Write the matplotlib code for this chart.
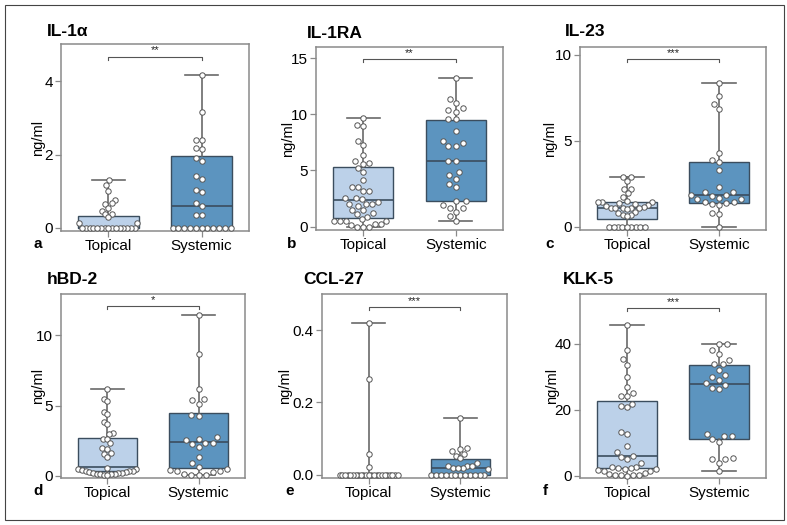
import numpy as np
import matplotlib
matplotlib.use("Agg")
import matplotlib.pyplot as plt
from matplotlib.patches import Rectangle

plt.rcParams['font.family'] = ['Liberation Sans', 'DejaVu Sans']

W, H = 787, 525

groups = ["Topical", "Systemic"]

# ---- data (ng/ml) ----
il1a_topical = [1.31, 1.16, 1.0, 0.75, 0.67, 0.64, 0.55, 0.45, 0.37, 0.37, 0.29, 0.14, 0.14,
                0, 0, 0, 0, 0, 0, 0, 0, 0, 0, 0, 0, 0, 0, 0]
il1a_systemic = [4.18, 3.15, 2.4, 2.4, 2.18, 2.15, 1.91, 1.82, 1.4, 1.33, 1.04, 0.98, 0.67, 0.59,
                 0.36, 0.34, 0, 0, 0, 0, 0, 0, 0, 0, 0, 0, 0]

il1ra_topical = [9.65, 9.03, 8.97, 7.67, 7.29, 6.34, 5.81, 5.66, 5.58, 5.22, 4.84, 4.13, 3.54, 3.54,
                 3.16, 3.16, 2.54, 2.54, 2.48, 2.18, 2.06, 2.04, 2.04, 1.83, 1.47, 1.47, 1.24, 1.09,
                 0.88, 0.65, 0.5, 0.5, 0.5, 0.5, 0.2, 0.2, 0.12, 0, 0, 0]
il1ra_systemic = [13.25, 11.36, 10.97, 10.53, 10.38, 10.24, 9.56, 9.56, 8.55, 7.67, 7.43, 7.2, 7.14,
                  5.87, 5.81, 4.87, 4.63, 4.28, 3.78, 3.51, 2.27, 2.27, 1.89, 1.68, 1.68, 1.3,
                  0.94, 0.5]

il23_topical = [2.89, 2.89, 2.65, 2.2, 2.16, 1.93, 1.7, 1.5, 1.43, 1.43, 1.43, 1.35, 1.33, 1.25,
                1.2, 1.15, 1.1, 1.1, 1.1, 1.1, 1.1, 1.05, 0.85, 0.8, 0.66, 0.66, 0.6,
                0, 0, 0, 0, 0, 0, 0, 0, 0]
il23_systemic = [8.38, 7.59, 7.13, 6.82, 4.28, 3.85, 3.74, 3.28, 2.31, 2.0, 2.0, 1.83, 1.81, 1.77,
                 1.68, 1.58, 1.58, 1.43, 1.43, 1.35, 1.29, 1.23, 0.81, 0.71, 0]

hbd2_topical = [6.16, 5.5, 5.3, 4.55, 4.4, 3.85, 3.7, 3.05, 3.0, 2.6, 2.6, 2.3, 2.0, 1.9, 1.6, 1.55,
                1.35, 0.55, 0.5, 0.45, 0.4, 0.35, 0.3, 0.3, 0.28, 0.25, 0.22, 0.2, 0.18, 0.15,
                0.12, 0.1, 0.08, 0.05, 0.03]
hbd2_systemic = [11.45, 8.7, 6.15, 5.45, 5.4, 5.1, 4.3, 4.25, 2.75, 2.6, 2.55, 2.35, 2.3, 2.25,
                 2.05, 1.3, 0.9, 0.65, 0.45, 0.4, 0.35, 0.3, 0.25, 0.15, 0.05, 0.05, 0.02]

ccl27_topical = [0.42, 0.265, 0.057, 0.022, 0, 0, 0, 0, 0, 0, 0, 0, 0, 0, 0, 0, 0, 0, 0, 0, 0, 0,
                 0, 0, 0, 0, 0]
ccl27_systemic = [0.157, 0.075, 0.072, 0.065, 0.058, 0.052, 0.045, 0.033, 0.025, 0.025, 0.025,
                  0.02, 0.018, 0.018, 0.015, 0, 0, 0, 0, 0, 0, 0, 0, 0, 0, 0, 0]

klk5_topical = [45.6, 38.2, 35.4, 33.7, 30.0, 26.8, 25.0, 24.3, 24.3, 21.7, 21.2, 20.8, 13.2, 12.5,
                9.0, 7.3, 6.0, 5.6, 5.2, 3.8, 2.6, 2.5, 2.3, 2.2, 2.1, 2.0, 1.8, 1.5, 1.3, 0.8,
                0.5, 0.3, 0.2, 0.2, 0.2, 0.0]
klk5_systemic = [40.0, 40.0, 38.0, 37.0, 35.0, 34.0, 33.8, 32.0, 30.5, 30.0, 29.0, 28.0, 27.5,
                 26.5, 26.2, 12.7, 12.0, 12.0, 11.2, 10.3, 5.5, 5.2, 5.0, 4.0, 1.5]

# box statistics: q1, median, q3, whisker low, whisker high
il1a_box = [[0, 0, 0.33, 0, 1.31], [0, 0.6, 1.95, 0, 4.18]]
il1ra_box = [[0.74, 2.39, 5.34, 0, 9.65], [2.27, 5.81, 9.5, 0.5, 13.25]]
il23_box = [[0.46, 1.1, 1.43, 0, 2.89], [1.35, 1.83, 3.74, 0, 8.38]]
hbd2_box = [[0.31, 0.59, 2.65, 0.03, 6.16], [0.52, 2.37, 4.5, 0.02, 11.45]]
ccl27_box = [[0, 0, 0.001, 0, 0.42], [0, 0.02, 0.043, 0, 0.157]]
klk5_box = [[2.3, 6.0, 22.8, 0, 45.6], [11.2, 27.8, 33.6, 1.5, 40.0]]

stars = ["**", "**", "***", "*", "***", "***"]
titles = ["IL-1\u03b1", "IL-1RA", "IL-23", "hBD-2", "CCL-27", "KLK-5"]
letters = ["a", "b", "c", "d", "e", "f"]

panels = [
    (il1a_topical, il1a_systemic, il1a_box, (-0.09, 5.02), [0, 2, 4], ["0", "2", "4"], 4.67),
    (il1ra_topical, il1ra_systemic, il1ra_box, (-0.3, 16.0), [0, 5, 10, 15], ["0", "5", "10", "15"], 14.9),
    (il23_topical, il23_systemic, il23_box, (-0.2, 10.45), [0, 5, 10], ["0", "5", "10"], 9.73),
    (hbd2_topical, hbd2_systemic, hbd2_box, (-0.17, 12.96), [0, 5, 10], ["0", "5", "10"], 12.08),
    (ccl27_topical, ccl27_systemic, ccl27_box, (-0.009, 0.50), [0, 0.2, 0.4], ["0.0", "0.2", "0.4"], 0.464),
    (klk5_topical, klk5_systemic, klk5_box, (-0.7, 55.1), [0, 20, 40], ["0", "20", "40"], 50.8),
]

# layout in pixels: left, top, right, bottom of each axes
rects = [(61, 44, 249, 231), (316, 47, 503, 230), (580, 47, 766, 230),
         (61, 294, 245, 478), (322, 294, 507, 478), (580, 294, 766, 478)]
title_pos = [(47, 32), (307, 34), (565, 32), (47, 280), (303, 280), (563, 280)]
letter_pos = [(33, 244), (287, 244), (545, 244), (33, 491), (285, 491), (543, 491)]
ylab_x = [38, 288, 550, 38, 285, 552]

colors = ["#bcd1e9", "#5c94bf"]
edge = "#3b4d5e"
spine_col = "#8a8a8a"


def swarm(ax, pos, vals, spacing=7.5, max_half=29.0):
    # simple beeswarm in pixel space, squeezed to the box width
    vals = np.asarray(vals, dtype=float)
    pts = ax.transData.transform(np.column_stack([np.full(len(vals), pos), vals]))
    ypix = pts[:, 1]
    px_per_unit = (ax.transData.transform((pos + 1, 0)) - ax.transData.transform((pos, 0)))[0]
    xs = np.zeros(len(vals))
    placed = []
    for i in np.argsort(ypix):
        y = ypix[i]
        cands = [0.0]
        near = [(px, py) for px, py in placed if abs(py - y) < spacing]
        for px, py in near:
            dx = np.sqrt(spacing ** 2 - (py - y) ** 2)
            cands += [px + dx, px - dx]
        cands.sort(key=lambda c: (round(abs(c), 6), c))
        for c in cands:
            if all((px - c) ** 2 + (py - y) ** 2 >= spacing ** 2 - 1e-6 for px, py in near):
                break
        placed.append((c, y))
        xs[i] = c
    m = np.abs(xs).max()
    if m > max_half:
        xs *= max_half / m
    return pos + xs / px_per_unit


fig = plt.figure(figsize=(W / 100, H / 100), dpi=100)
fig.patches.append(Rectangle((5 / W, 1 - 520 / H), 779 / W, 515 / H, transform=fig.transFigure,
                             fill=False, edgecolor="#444444", linewidth=0.8))

for k, (top_vals, sys_vals, box, ylim, yt, ytl, yb) in enumerate(panels):
    l, t, r, b = rects[k]
    ax = fig.add_axes([l / W, 1 - b / H, (r - l) / W, (b - t) / H])
    ax.set_xlim(0.49, 2.51)
    ax.set_ylim(*ylim)

    stats = []
    for g, s in zip(groups, box):
        stats.append(dict(label=g, q1=s[0], med=s[1], q3=s[2], whislo=s[3], whishi=s[4], fliers=[]))
    bp = ax.bxp(stats, positions=[1, 2], widths=0.65, patch_artist=True, showfliers=False,
                capwidths=0.36, manage_ticks=False,
                boxprops=dict(edgecolor=edge, linewidth=1.0),
                medianprops=dict(color=edge, linewidth=1.2),
                whiskerprops=dict(color="#6a6a6a", linewidth=1.2),
                capprops=dict(color="#6a6a6a", linewidth=1.2))
    for patch, c in zip(bp["boxes"], colors):
        patch.set_facecolor(c)

    for pos, vals in zip([1, 2], [top_vals, sys_vals]):
        xs = swarm(ax, pos, vals)
        ax.plot(xs, vals, "o", ms=3.9, mfc="white", mec="#555555", mew=0.7, zorder=5,
                clip_on=False)

    # significance bracket
    dy = (ylim[1] - ylim[0]) * 0.015
    ax.plot([1, 1, 2, 2], [yb - dy, yb, yb, yb - dy], color="#555555", lw=0.8)
    ax.text(1.5, yb + dy * 0.5, stars[k], ha="center", va="bottom", fontsize=8, color="#222222")

    ax.set_xticks([1, 2])
    ax.set_xticklabels(groups, fontsize=11)
    ax.set_yticks(yt)
    ax.set_yticklabels(ytl, fontsize=11)
    ax.tick_params(length=4, width=0.9, color=spine_col, pad=2)
    for sp in ax.spines.values():
        sp.set_color(spine_col)
        sp.set_linewidth(1.1)

    tx, ty = title_pos[k]
    fig.text(tx / W, 1 - ty / H, titles[k], fontsize=12.5, fontweight="bold", ha="left", va="center")
    lx, ly = letter_pos[k]
    fig.text(lx / W, 1 - ly / H, letters[k], fontsize=11, fontweight="bold", ha="left", va="center")
    fig.text(ylab_x[k] / W, 1 - (t + b) / 2 / H, "ng/ml", rotation=90, fontsize=10.5,
             ha="center", va="center")

fig.savefig("out.png", dpi=100)
